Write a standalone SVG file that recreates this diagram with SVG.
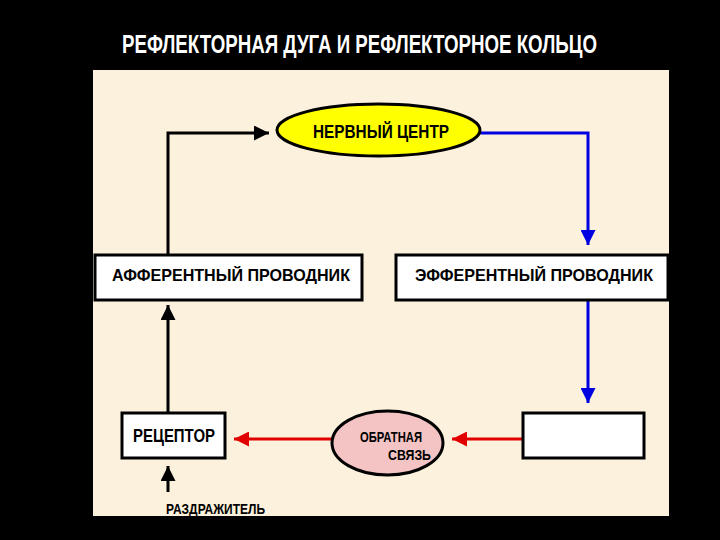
<svg xmlns="http://www.w3.org/2000/svg" width="720" height="540" viewBox="0 0 720 540">
<style>
text{font-family:"Liberation Sans","DejaVu Sans",sans-serif;font-weight:bold;fill:#000}
.box{fill:#fff;stroke:#000;stroke-width:3}
.k{stroke:#000;stroke-width:3;fill:none}
.b{stroke:#0000e0;stroke-width:3;fill:none}
.r{stroke:#e00000;stroke-width:3;fill:none}
</style>
<defs>
<marker id="ak" viewBox="0 0 10 10" refX="10" refY="5" markerWidth="5.5" markerHeight="5" orient="auto"><path d="M0,0L10,5L0,10z" fill="#000"/></marker>
<marker id="ab" viewBox="0 0 10 10" refX="10" refY="5" markerWidth="5.5" markerHeight="5" orient="auto"><path d="M0,0L10,5L0,10z" fill="#0000e0"/></marker>
<marker id="ar" viewBox="0 0 10 10" refX="10" refY="5" markerWidth="6" markerHeight="5" orient="auto"><path d="M0,0L10,5L0,10z" fill="#e00000"/></marker>
</defs>
<rect x="0" y="0" width="720" height="540" fill="#000"/>
<text x="122" y="53" font-size="26" style="fill:#fff" textLength="475" lengthAdjust="spacingAndGlyphs">РЕФЛЕКТОРНАЯ ДУГА И РЕФЛЕКТОРНОЕ КОЛЬЦО</text>
<rect x="93" y="70" width="576" height="446" fill="#fcf1dc"/>
<g id="connectors">
<path class="k" d="M168,255V133H269" marker-end="url(#ak)"/>
<path class="b" d="M480,133H588V245" marker-end="url(#ab)"/>
<path class="b" d="M588,300V403" marker-end="url(#ab)"/>
<path class="r" d="M523,439H452" marker-end="url(#ar)"/>
<path class="r" d="M332,439H234" marker-end="url(#ar)"/>
<path class="k" d="M168,413V305" marker-end="url(#ak)"/>
<path class="k" d="M168,492V466" marker-end="url(#ak)"/>
</g>
<g id="nerve-center">
<ellipse cx="378.5" cy="130" rx="101.5" ry="26" fill="#ffff00" stroke="#000" stroke-width="3"/>
<text x="313" y="138" font-size="18" textLength="136" lengthAdjust="spacingAndGlyphs">НЕРВНЫЙ ЦЕНТР</text>
</g>
<g id="afferent">
<rect class="box" x="95" y="255" width="267" height="45"/>
<text x="112" y="281" font-size="17" textLength="238" lengthAdjust="spacingAndGlyphs">АФФЕРЕНТНЫЙ ПРОВОДНИК</text>
</g>
<g id="efferent">
<rect class="box" x="396" y="255" width="272" height="45"/>
<text x="415" y="281" font-size="17" textLength="238" lengthAdjust="spacingAndGlyphs">ЭФФЕРЕНТНЫЙ ПРОВОДНИК</text>
</g>
<g id="effector">
<rect class="box" x="523" y="413" width="121" height="45"/>
</g>
<g id="feedback">
<ellipse cx="387.5" cy="443" rx="55.5" ry="32" fill="#f4c4c4" stroke="#000" stroke-width="3"/>
<text x="360" y="442" font-size="15" textLength="62" lengthAdjust="spacingAndGlyphs">ОБРАТНАЯ</text>
<text x="388" y="460" font-size="15" textLength="43" lengthAdjust="spacingAndGlyphs">СВЯЗЬ</text>
</g>
<g id="receptor">
<rect class="box" x="122" y="413" width="103" height="45"/>
<text x="133" y="442" font-size="19" textLength="82" lengthAdjust="spacingAndGlyphs">РЕЦЕПТОР</text>
</g>
<g id="stimulus">
<text x="166" y="514" font-size="14" textLength="99" lengthAdjust="spacingAndGlyphs">РАЗДРАЖИТЕЛЬ</text>
</g>
</svg>
